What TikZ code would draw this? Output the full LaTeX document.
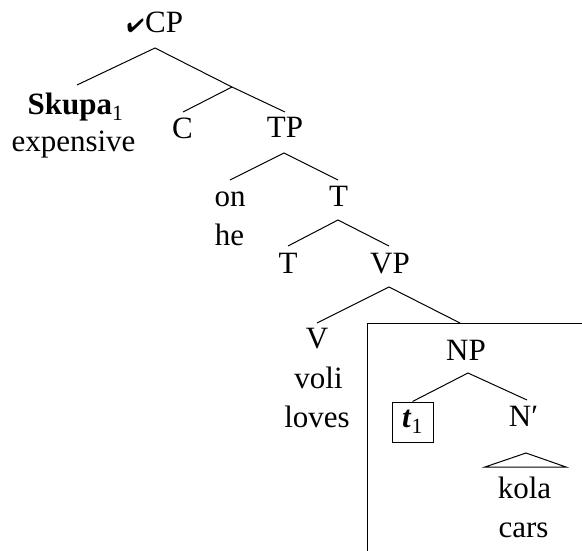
\documentclass[tikz,border=0pt]{standalone}
\usepackage{fontspec}
\setmainfont{Liberation Serif}
\usepackage{graphicx}
\usepackage{pifont}
\begin{document}
\begin{tikzpicture}[x=1pt,y=-1pt,
  font=\fontsize{31}{38}\selectfont,
  lbl/.style={anchor=base, inner sep=0pt},
  edge/.style={line width=1pt},
  tracebox/.style={draw, line width=1pt, minimum width=41pt, minimum height=40pt, inner sep=0pt}]
\useasboundingbox (0,0) rectangle (582,551);

% labels
\node[lbl] (cp) at (155,33) {{\fontsize{24}{24}\selectfont\scalebox{0.85}[0.8]{\ding{52}}}\kern1pt CP};
\node[lbl] (skupa) at (75.5,115) {\textbf{Skupa}\textsubscript{1}};
\node[lbl] (expensive) at (73.5,152) {expensive};
\node[lbl] (c) at (182.5,139) {C};
\node[lbl] (tp) at (285,138) {TP};
\node[lbl] (on) at (230,207) {on};
\node[lbl] (he) at (229.5,245) {he};
\node[lbl] (tbar) at (338.5,207) {T};
\node[lbl] (thead) at (288,273) {T};
\node[lbl] (vp) at (390,273) {VP};
\node[lbl] (v) at (317,348) {V};
\node[lbl] (voli) at (318.5,388) {voli};
\node[lbl] (loves) at (317,427) {loves};
\node[lbl] (np) at (466,360) {NP};
\node[tracebox] (trace) at (412.5,422) {\textbf{\textit{t}}\textsubscript{1}};
\node[lbl] (nbar) at (523.5,426) {N′};
\node[lbl] (kola) at (524.5,498) {kola};
\node[lbl] (cars) at (523.5,537) {cars};

% branch points and line ends
\coordinate (cpA) at (155,48);
\coordinate (skA) at (77,85);
\coordinate (cbarA) at (232,87);
\coordinate (cA) at (183,112);
\coordinate (tpTop) at (285,112);
\coordinate (tpA) at (284,153);
\coordinate (onTop) at (230,180);
\coordinate (tbarTop) at (338,180);
\coordinate (tbarA) at (338,220);
\coordinate (theadTop) at (288,246);
\coordinate (vpTop) at (389,246);
\coordinate (vpA) at (389,287);
\coordinate (vTop) at (317,323);
\coordinate (npTop) at (460,323);
\coordinate (npA) at (468,373);
\coordinate (nbarTop) at (527,400);
\coordinate (triA) at (526,453);
\coordinate (triL) at (485,467);
\coordinate (triR) at (566,467);
\coordinate (boxTL) at (367,323);
\coordinate (boxBL) at (367,551);
\coordinate (boxTR) at (582,323);

% edges
\draw[edge] (skA) -- (cpA) -- (cbarA) -- (tpTop);
\draw[edge] (cbarA) -- (cA);
\draw[edge] (onTop) -- (tpA) -- (tbarTop);
\draw[edge] (theadTop) -- (tbarA) -- (vpTop);
\draw[edge] (vTop) -- (vpA) -- (npTop);
\draw[edge] (trace.north) -- (npA) -- (nbarTop);
\draw[edge] (triL) -- (triA) -- (triR) -- cycle;
\draw[edge] (boxBL) -- (boxTL) -- (boxTR);
\end{tikzpicture}
\end{document}
